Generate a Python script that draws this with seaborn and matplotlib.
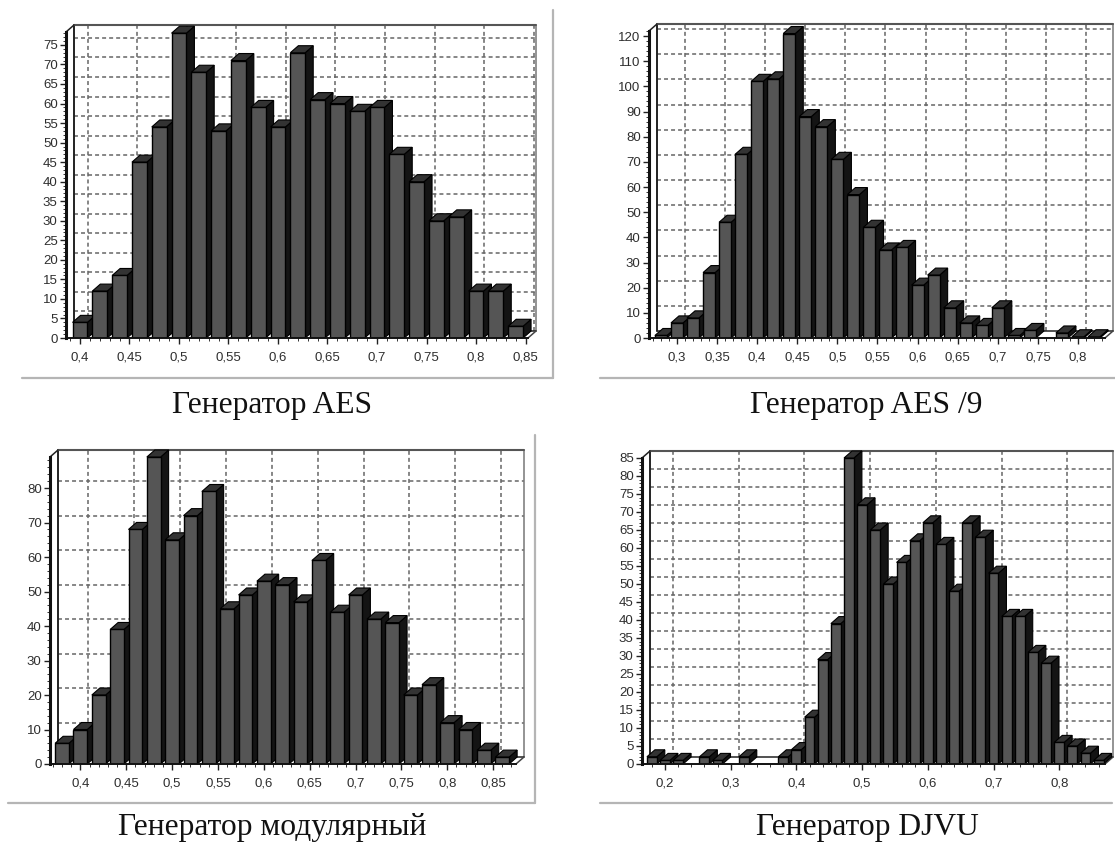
import matplotlib

matplotlib.use("Agg")
import matplotlib.pyplot as plt
import pandas as pd
import seaborn as sns
from matplotlib.lines import Line2D
from matplotlib.patches import Polygon
from matplotlib.ticker import MultipleLocator

aes_bins = [0.40, 0.42, 0.44, 0.46, 0.48, 0.50, 0.52, 0.54, 0.56, 0.58, 0.60, 0.62,
            0.64, 0.66, 0.68, 0.70, 0.72, 0.74, 0.76, 0.78, 0.80, 0.82, 0.84]
aes_counts = [4, 12, 16, 45, 54, 78, 68, 53, 71, 59, 54, 73,
              61, 60, 58, 59, 47, 40, 30, 31, 12, 12, 3]
aes_xticks = [0.40, 0.45, 0.50, 0.55, 0.60, 0.65, 0.70, 0.75, 0.80, 0.85]
aes_xlabels = ["0,4", "0,45", "0,5", "0,55", "0,6", "0,65", "0,7", "0,75", "0,8", "0,85"]

aes9_bins = [0.28, 0.30, 0.32, 0.34, 0.36, 0.38, 0.40, 0.42, 0.44, 0.46, 0.48, 0.50, 0.52, 0.54,
             0.56, 0.58, 0.60, 0.62, 0.64, 0.66, 0.68, 0.70, 0.72, 0.74, 0.76, 0.78, 0.80, 0.82]
aes9_counts = [1, 6, 8, 26, 46, 73, 102, 103, 121, 88, 84, 71, 57, 44,
               35, 36, 21, 25, 12, 6, 5, 12, 1, 3, 0, 2, 0.5, 0.5]
aes9_xticks = [0.30, 0.35, 0.40, 0.45, 0.50, 0.55, 0.60, 0.65, 0.70, 0.75, 0.80]
aes9_xlabels = ["0,3", "0,35", "0,4", "0,45", "0,5", "0,55", "0,6", "0,65", "0,7", "0,75", "0,8"]

mod_bins = [0.38, 0.40, 0.42, 0.44, 0.46, 0.48, 0.50, 0.52, 0.54, 0.56, 0.58, 0.60, 0.62,
            0.64, 0.66, 0.68, 0.70, 0.72, 0.74, 0.76, 0.78, 0.80, 0.82, 0.84, 0.86]
mod_counts = [6, 10, 20, 39, 68, 89, 65, 72, 79, 45, 49, 53, 52,
              47, 59, 44, 49, 42, 41, 20, 23, 12, 10, 4, 2]
mod_xticks = aes_xticks
mod_xlabels = aes_xlabels

djvu_bins = [0.18, 0.20, 0.22, 0.24, 0.26, 0.28, 0.30, 0.32, 0.34, 0.36, 0.38, 0.40,
             0.42, 0.44, 0.46, 0.48, 0.50, 0.52, 0.54, 0.56, 0.58, 0.60, 0.62, 0.64,
             0.66, 0.68, 0.70, 0.72, 0.74, 0.76, 0.78, 0.80, 0.82, 0.84, 0.86]
djvu_counts = [2, 1, 1, 0, 2, 1, 0, 2, 0, 0, 2, 4,
               13, 29, 39, 85, 72, 65, 50, 56, 62, 67, 61, 48,
               67, 63, 53, 41, 41, 31, 28, 6, 5, 3, 1]
djvu_xticks = [0.2, 0.3, 0.4, 0.5, 0.6, 0.7, 0.8]
djvu_xlabels = ["0,2", "0,3", "0,4", "0,5", "0,6", "0,7", "0,8"]

WIDTH, HEIGHT = 1115, 843
DEPTH_X, DEPTH_Y = 8, 7
FACE, SIDE, TOP = "#555555", "#141414", "#333333"
LABEL_COLOR = "#2e2e2e"
GRID_COLOR = "#666666"

sns.set_style("white")
plt.rcParams["font.family"] = ["Liberation Sans", "DejaVu Sans"]


def draw_wall(ax, dx, dy, yticks):
    """Back wall of the fake 3D box with its dashed grid."""
    x0, x1 = ax.get_xlim()
    y0, y1 = ax.get_ylim()
    grid = dict(color=GRID_COLOR, lw=1.1, dashes=(2.6, 2), zorder=1, clip_on=False)
    for y in yticks:
        if y0 < y <= y1:
            ax.plot([x0 + dx, x1 + dx], [y + dy, y + dy], **grid)
    for x in ax.get_xticks():
        ax.plot([x + dx, x + dx], [y0 + dy, y1 + dy], **grid)
    ax.plot([x0 + dx, x0 + dx], [y0 + dy, y1 + dy], color="#222222", lw=1.4, zorder=1.5, clip_on=False)
    ax.plot([x1 + dx, x1 + dx], [y0 + dy, y1 + dy], color="#777777", lw=1.1, zorder=1.5, clip_on=False)
    ax.plot([x0 + dx, x1 + dx], [y1 + dy, y1 + dy], color="#555555", lw=1.5, zorder=1.5, clip_on=False)
    ax.plot([x0 + dx, x1 + dx], [y0 + dy, y0 + dy], color="#222222", lw=1.1, zorder=1.5, clip_on=False)
    ax.plot([x0, x0 + dx], [y1, y1 + dy], color="#222222", lw=1.1, zorder=1.5, clip_on=False)
    ax.plot([x1, x1 + dx], [y0, y0 + dy], color="#444444", lw=1.1, zorder=1.5, clip_on=False)


def add_depth(ax, dx, dy):
    """Give every bar drawn by seaborn a top and a side face."""
    for i, bar in enumerate(ax.patches):
        x, w, h = bar.get_x(), bar.get_width(), bar.get_height()
        z = 3 + i * 0.01
        bar.set_zorder(z + 0.005)
        if h == 0:
            bar.set_visible(False)
            continue
        side = [(x + w, 0), (x + w + dx, dy), (x + w + dx, h + dy), (x + w, h)]
        top = [(x, h), (x + dx, h + dy), (x + w + dx, h + dy), (x + w, h)]
        ax.add_patch(Polygon(side, fc=SIDE, ec="black", lw=0.8, zorder=z, clip_on=False))
        ax.add_patch(Polygon(top, fc=TOP, ec="black", lw=0.8, zorder=z, clip_on=False))


def plot_panel(fig, bins, counts, xticks, xlabels, box, xlim, ymax, ystep, title, title_xy):
    left, right, top, bottom = box
    ax = fig.add_axes([left / WIDTH, 1 - bottom / HEIGHT, (right - left) / WIDTH, (bottom - top) / HEIGHT])
    ax.patch.set_alpha(0)
    data = pd.DataFrame({"bin": bins, "count": counts})
    sns.barplot(data=data, x="bin", y="count", native_scale=True, width=0.75,
                color=FACE, saturation=1, edgecolor="black", linewidth=1.0, ax=ax)
    ax.set_xlim(*xlim)
    ax.set_ylim(0, ymax)
    ax.set_xlabel("")
    ax.set_ylabel("")
    ax.set_xticks(xticks)
    ax.set_xticklabels(xlabels)
    ax.xaxis.set_minor_locator(MultipleLocator((xticks[1] - xticks[0]) / 5))
    ax.yaxis.set_major_locator(MultipleLocator(ystep))
    ax.yaxis.set_minor_locator(MultipleLocator(ystep / 5))
    ax.tick_params(axis="both", which="major", length=4, width=1, color="#222222",
                   labelsize=9.5, labelcolor=LABEL_COLOR, pad=2, left=True, bottom=True)
    ax.tick_params(axis="x", which="major", pad=6)
    ax.tick_params(axis="both", which="minor", length=2, width=0.7, color="#333333", left=True, bottom=True)

    sns.despine(ax=ax, top=True, right=True)
    ax.spines["left"].set_linewidth(2.2)
    ax.spines["left"].set_color("#111111")
    ax.spines["bottom"].set_linewidth(1.4)
    ax.spines["bottom"].set_color("#111111")
    ax.spines["left"].set_zorder(6)
    ax.spines["bottom"].set_zorder(6)

    dx = DEPTH_X * (xlim[1] - xlim[0]) / (right - left)
    dy = DEPTH_Y * ymax / (bottom - top)
    draw_wall(ax, dx, dy, ax.get_yticks())
    add_depth(ax, dx, dy)
    fig.text(title_xy[0] / WIDTH, 1 - title_xy[1] / HEIGHT, title, ha="center", va="baseline",
             family=["Liberation Serif", "DejaVu Serif"], fontsize=22.7, color="#111111")


def frame_line(fig, x0, y0, x1, y1):
    fig.add_artist(Line2D([x0 / WIDTH, x1 / WIDTH], [1 - y0 / HEIGHT, 1 - y1 / HEIGHT],
                          color="#b5b5b5", lw=1.6))


if __name__ == "__main__":
    fig = plt.figure(figsize=(WIDTH / 100, HEIGHT / 100), dpi=100, facecolor="white")

    plot_panel(fig, aes_bins, aes_counts, aes_xticks, aes_xlabels,
               (66, 528, 32, 338), (0.3859, 0.8525), 78.3, 5, "Генератор AES", (272, 413))
    plot_panel(fig, aes9_bins, aes9_counts, aes9_xticks, aes9_xlabels,
               (649, 1105, 31, 338), (0.2651, 0.8337), 122, 10, "Генератор AES /9", (866, 413))
    plot_panel(fig, mod_bins, mod_counts, mod_xticks, mod_xlabels,
               (50, 516, 457, 764), (0.3669, 0.875), 89, 10, "Генератор модулярный", (272, 835))
    plot_panel(fig, djvu_bins, djvu_counts, djvu_xticks, djvu_xlabels,
               (642, 1105, 458, 764), (0.165, 0.8697), 85, 5, "Генератор DJVU", (867, 835))

    frame_line(fig, 22, 378, 553, 378)
    frame_line(fig, 553, 10, 553, 378)
    frame_line(fig, 600, 378, 1115, 378)
    frame_line(fig, 8, 803, 535, 803)
    frame_line(fig, 535, 435, 535, 803)
    frame_line(fig, 600, 803, 1112, 803)

    fig.savefig("out.png", dpi=100)
    plt.close(fig)
